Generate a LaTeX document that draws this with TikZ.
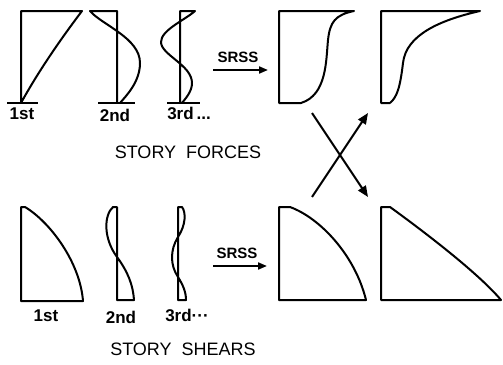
\documentclass[tikz,border=0pt]{standalone}
\usepackage{fontspec}
\setmainfont{Liberation Sans}
\usepackage{tikz}
\usetikzlibrary{arrows.meta, positioning, calc}

\begin{document}
\begin{tikzpicture}[x=1pt, y=-1pt, line width=2pt, line join=round,
    modelabel/.style={inner sep=0pt, font=\fontsize{17}{19}\selectfont\bfseries},
    titlelabel/.style={inner sep=0pt, font=\fontsize{18}{20}\selectfont},
    srsslabel/.style={inner sep=0pt, font=\fontsize{15}{17}\selectfont\bfseries},
    srssarrow/.style={-{Triangle[length=9pt, width=7pt]}},
    crossarrow/.style={-{Triangle[length=11pt, width=9pt]}}]
    \fill[white] (0,0) rectangle (503,364);
    \useasboundingbox (0,0) rectangle (503,364);

    % Story forces, modes
    \draw (21,103) -- (21,11) -- (82,11) .. controls (60,40) and (38,72) .. (21,103);
    \draw (7,103) -- (38,103);
    \draw (117,103) -- (117,11) -- (90,11) .. controls (102,25) and (140,38) .. (140,63)
          .. controls (140,82) and (126,96) .. (120,103);
    \draw (98,103) -- (135,103);
    \draw (180,103) -- (180,11) -- (195,11) .. controls (185,20) and (161,30) .. (161,42)
          .. controls (161,55) and (192,65) .. (192,83) .. controls (192,92) and (185,99) .. (182,103);
    \draw (167,103) -- (200,103);

    \node[modelabel] (f1) at (22,114) {1st};
    \node[modelabel] (f2) at (115,115) {2nd};
    \node[modelabel] (f3) at (189,113) {3rd\,...};
    \node[titlelabel] (forces) at (188,152) {STORY\ \ FORCES};

    % Story shears, modes
    \draw (21,301) -- (21,207) -- (25,207) .. controls (50,222) and (80,262) .. (83,301) -- cycle;
    \draw (117,300) -- (117,207) -- (113,207) .. controls (104,215) and (103,238) .. (117,257)
          .. controls (128,272) and (133,285) .. (134,300) -- cycle;
    \draw (178,300) -- (178,207) -- (182,207) .. controls (186,212) and (186,225) .. (178,237)
          .. controls (170,250) and (170,265) .. (178,277) .. controls (183,285) and (186,292) .. (186,300) -- cycle;

    \node[modelabel] (s1) at (46,316) {1st};
    \node[modelabel] (s2) at (121,317) {2nd};
    \node[modelabel] (s3) at (187,315) {3rd···};
    \node[titlelabel] (shears) at (183,349) {STORY\ \ SHEARS};

    % SRSS combinations
    \draw (301,103) -- (279,103) -- (279,11) -- (354,11) .. controls (335,15) and (330,22) .. (328,40)
          .. controls (326,60) and (327,95) .. (301,103);
    \draw (390,103) -- (381,103) -- (381,11) -- (480,11) .. controls (440,20) and (406,35) .. (403,63)
          .. controls (400,88) and (397,97) .. (390,103);
    \draw (279,300) -- (279,207) -- (290,207) .. controls (320,218) and (355,255) .. (366,300) -- cycle;
    \draw (381,300) -- (381,207) -- (390,207) .. controls (430,236) and (480,275) .. (501,300) -- cycle;

    % Arrows
    \coordinate (fa) at (213,70);
    \coordinate (fb) at (268,70);
    \coordinate (sa) at (213,266);
    \coordinate (sb) at (267,266);
    \draw[srssarrow] (fa) -- (fb);
    \draw[srssarrow] (sa) -- (sb);
    \node[srsslabel] (srssf) at (238,57) {SRSS};
    \node[srsslabel] (srsss) at (237,253) {SRSS};

    \coordinate (ctl) at (312,113);
    \coordinate (cbr) at (368,197);
    \coordinate (cbl) at (312,197);
    \coordinate (ctr) at (368,113);
    \draw[crossarrow] (ctl) -- (cbr);
    \draw[crossarrow] (cbl) -- (ctr);
\end{tikzpicture}
\end{document}
